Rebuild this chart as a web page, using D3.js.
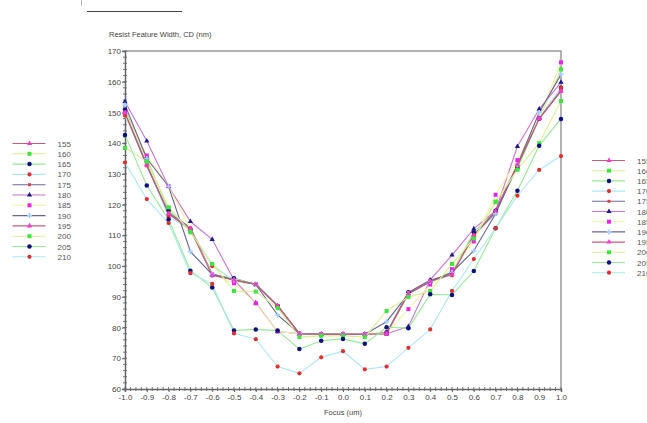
<!DOCTYPE html>
<html>
<head>
<meta charset="utf-8">
<script src="https://cdn.jsdelivr.net/npm/d3@7"></script>
<style>
body { margin: 0; background: #fff; }
svg { display: block; font-family: "Liberation Sans", Arial, sans-serif; }
</style>
</head>
<body>
<svg id="chart" width="647" height="423"></svg>
<script>
"use strict";

// focus values (um)
const focus = [-1.0, -0.9, -0.8, -0.7, -0.6, -0.5, -0.4, -0.3, -0.2, -0.1, 0.0,
    0.1, 0.2, 0.3, 0.4, 0.5, 0.6, 0.7, 0.8, 0.9, 1.0];

const doses = ["155", "160", "165", "170", "175", "180", "185", "190", "195", "200", "205", "210"];

// CD (nm) per dose
const cd155 = [150, 133, 117, 112, 97, 96, 94, 87, 78, 77.8, 77.8, 77.8, 78, 91, 95, 98, 110, 118, 133, 148, 157];
const cd160 = [150, 134, 119, 111, 100.5, 95, 94, 87, 78, 77.8, 77.8, 77.8, 78, 91, 95, 98, 109, 121, 131.5, 148, 164];
const cd165 = [151, 135, 118, 112, 97, 96, 94, 87, 78, 77.8, 77.8, 77.8, 78.5, 91.5, 95, 98, 111, 118, 132, 148, 158];
const cd170 = [149, 133, 116, 112, 100, 95.5, 94, 87, 78, 77.8, 77.8, 77.8, 78, 91, 95, 97, 110, 117, 133, 148, 158];
const cd175 = [150, 132.6, 117.4, 112.5, 97.5, 95.5, 94.2, 87.2, 78.1, 77.8, 77.8, 77.8, 78.2, 91.4, 95.5, 97.3, 110, 117.5, 132.6, 148, 157];
const cd180 = [153.5, 140.7, 125.9, 114.5, 108.7, 95.5, 88, 78.7, 78, 77.8, 77.8, 77.8, 78, 80.3, 95.5, 103.6, 112.1, 118, 138.9, 151.1, 159.8];
const cd185 = [150, 136, 126, 112, 97.3, 94.4, 87.9, 78.7, 78, 77.8, 77.8, 77.8, 78.1, 86, 94, 99, 108, 123.2, 134.5, 148, 166.3];
const cd190 = [152.4, 135, 125.9, 104.7, 97.3, 95.5, 94, 84.1, 78, 77.8, 77.8, 77.8, 81.9, 91, 95, 98, 105, 117, 133, 150, 162.4];
const cd195 = [149.9, 133, 117, 112, 97, 95.5, 94, 87, 78, 77.8, 77.8, 77.8, 78, 91, 95, 97.3, 110, 118, 133, 148, 157];
const cd200 = [138.5, 134, 119.1, 111.2, 100.7, 91.9, 91.7, 86.3, 76.9, 77.3, 77.3, 76.9, 85.4, 89.9, 91.9, 100.7, 109, 120.8, 131.4, 140, 153.7];
const cd205 = [142.7, 126.2, 115.2, 98.5, 93, 79, 79.4, 79, 73, 75.7, 76.3, 74.7, 80.1, 79.8, 90.8, 90.6, 98.4, 112.3, 124.5, 139.2, 147.9];
const cd210 = [133.7, 121.8, 114, 97.7, 94.2, 78.1, 76.2, 67.3, 65.1, 70.3, 72.3, 66.4, 67.3, 73.4, 79.4, 91.9, 102.3, 112.3, 122.9, 131.3, 135.8];

const allCd = [cd155, cd160, cd165, cd170, cd175, cd180, cd185, cd190, cd195, cd200, cd205, cd210];

const yTicks = [60, 70, 80, 90, 100, 110, 120, 130, 140, 150, 160, 170];
const xTicks = [-1.0, -0.9, -0.8, -0.7, -0.6, -0.5, -0.4, -0.3, -0.2, -0.1, 0.0,
    0.1, 0.2, 0.3, 0.4, 0.5, 0.6, 0.7, 0.8, 0.9, 1.0];

// 8 styles repeat over the doses
const styles = [
    {line: "#cc5a78", fill: "#f03cd0", shape: d3.symbolTriangle, size: 12},
    {line: "#d8f096", fill: "#3ce63c", shape: d3.symbolSquare, size: 16},
    {line: "#96ea96", fill: "#10107a", shape: d3.symbolCircle, size: 16},
    {line: "#ace8f0", fill: "#e03030", shape: d3.symbolCircle, size: 14},
    {line: "#74669e", fill: "#d84848", shape: d3.symbolSquare, size: 9},
    {line: "#c874d0", fill: "#1a1a8a", shape: d3.symbolTriangle, size: 12},
    {line: "#f2f0a6", fill: "#ee22ee", shape: d3.symbolSquare, size: 16},
    {line: "#666694", fill: "#a8d0ff", shape: d3.symbolCross, size: 14}
];

const svg = d3.select("#chart");
const x = d3.scaleLinear().domain([-1, 1]).range([125, 561]);
const y = d3.scaleLinear().domain([60, 170]).range([389, 51]);

// stray header marks
svg.append("line").attr("x1", 87).attr("x2", 182).attr("y1", 11.5).attr("y2", 11.5)
    .attr("stroke", "#444").attr("stroke-width", 1);
svg.append("line").attr("x1", 81.5).attr("x2", 81.5).attr("y1", 0).attr("y2", 6)
    .attr("stroke", "#bbb");

svg.append("text")
    .attr("x", 109).attr("y", 37)
    .attr("font-size", 7.5).attr("fill", "#444")
    .text("Resist Feature Width, CD (nm)");

// frame top / right
svg.append("path")
    .attr("d", `M${x(-1)},${y(170)}H${x(1)}V${y(60)}`)
    .attr("fill", "none").attr("stroke", "#999").attr("stroke-width", 1.5);

// minor ticks
const yMinor = d3.range(60, 170.1, 2);
svg.append("g").selectAll("line").data(yMinor).join("line")
    .attr("x1", x(-1) - 2).attr("x2", x(-1) + 2)
    .attr("y1", d => y(d)).attr("y2", d => y(d))
    .attr("stroke", "#777");
const xMinor = d3.range(0, 81).map(i => -1 + i * 0.025);
svg.append("g").selectAll("line").data(xMinor).join("line")
    .attr("x1", d => x(d)).attr("x2", d => x(d))
    .attr("y1", y(60) - 2).attr("y2", y(60) + 2)
    .attr("stroke", "#777");

const yAxis = svg.append("g")
    .attr("transform", `translate(${x(-1)},0)`)
    .call(d3.axisLeft(y).tickValues(yTicks).tickSize(3).tickPadding(1).tickFormat(d3.format("d")));
const xAxis = svg.append("g")
    .attr("transform", `translate(0,${y(60)})`)
    .call(d3.axisBottom(x).tickValues(xTicks).tickSize(3).tickPadding(2).tickFormat(d3.format(".1f")));
[yAxis, xAxis].forEach(function(g) {
    g.select(".domain").attr("stroke", "#666").attr("stroke-width", 1.5);
    g.selectAll(".tick line").attr("stroke", "#666");
    g.selectAll(".tick text")
        .attr("fill", "#444")
        .attr("font-size", 8)
        .attr("font-family", "Liberation Sans, Arial, sans-serif");
});
xAxis.selectAll(".tick text").text(d => d3.format(".1f")(d).replace("\u2212", "-"));

svg.append("text")
    .attr("x", 343).attr("y", 415)
    .attr("text-anchor", "middle")
    .attr("font-size", 7.5).attr("fill", "#444")
    .text("Focus (um)");

// series
const line = d3.line()
    .x((d, i) => x(focus[i]))
    .y(d => y(d));

const plot = svg.append("g");
allCd.forEach(function(vals, k) {
    const st = styles[k % 8];
    plot.append("path")
        .datum(vals)
        .attr("d", line)
        .attr("fill", "none")
        .attr("stroke", st.line)
        .attr("stroke-width", 1.1);
});
allCd.forEach(function(vals, k) {
    const st = styles[k % 8];
    plot.append("g").selectAll("path").data(vals).join("path")
        .attr("transform", (d, i) => `translate(${x(focus[i])},${y(d)})`)
        .attr("d", d3.symbol(st.shape, st.size))
        .attr("fill", st.fill);
});

// legends (right one runs off the page edge, as in the source)
function legend(x0, y0, step) {
    const g = svg.append("g").attr("transform", `translate(${x0},${y0})`);
    doses.forEach(function(name, k) {
        const st = styles[k % 8];
        const row = g.append("g").attr("transform", `translate(0,${k * step})`);
        row.append("line").attr("x1", 0).attr("x2", 33).attr("y1", 0).attr("y2", 0)
            .attr("stroke", st.line).attr("stroke-width", 1.1);
        row.append("path").attr("transform", "translate(17,0)")
            .attr("d", d3.symbol(st.shape, st.size)).attr("fill", st.fill);
        row.append("text").attr("x", 45).attr("y", 3)
            .attr("font-size", 8).attr("fill", "#555").text(name);
    });
}
legend(12.5, 143.5, 10.3);
legend(592, 160.5, 10.2);
</script>
</body>
</html>
